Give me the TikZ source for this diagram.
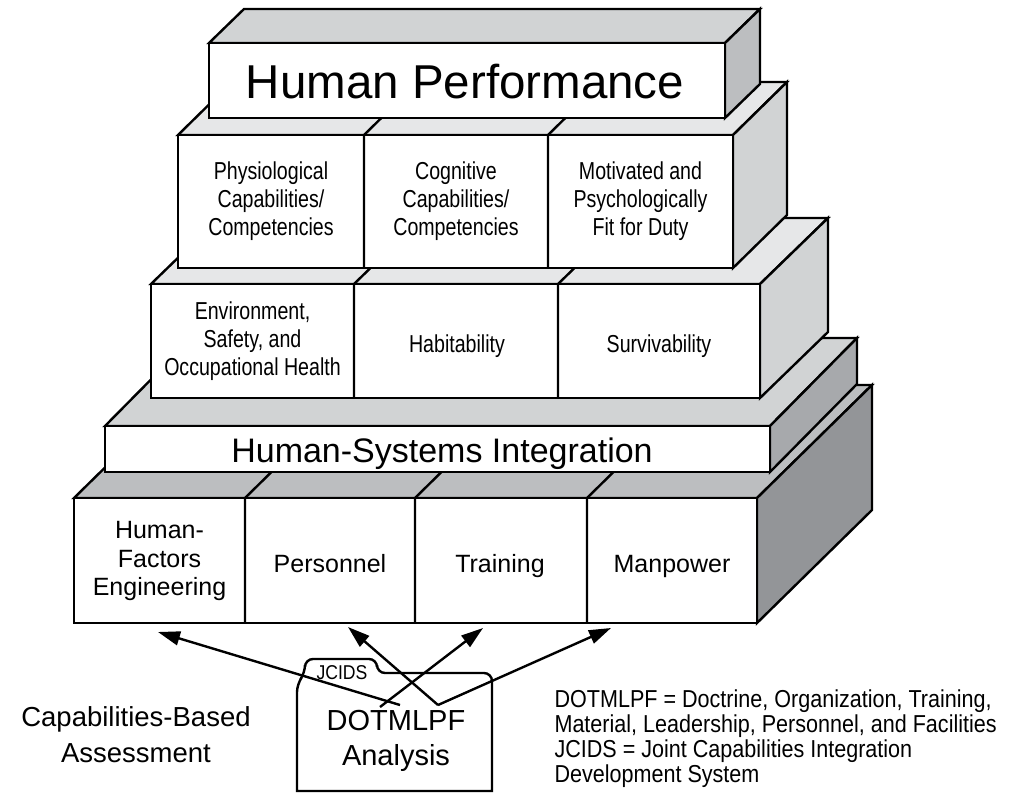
\documentclass[tikz,border=0pt]{standalone}
\usepackage{fontspec}
\setmainfont{Liberation Sans}
\newfontfamily\narrowfont[FakeStretch=0.8]{Liberation Sans}
\newfontfamily\notefont[FakeStretch=0.88]{Liberation Sans}
\usetikzlibrary{arrows.meta}
\definecolor{gA}{HTML}{E6E7E8}
\definecolor{gB}{HTML}{D1D3D4}
\definecolor{gC}{HTML}{BCBEC0}
\definecolor{gD}{HTML}{A7A9AC}
\definecolor{gE}{HTML}{939598}
\tikzset{
  edge/.style={draw=black, line width=2.4pt, line join=miter},
  celltext/.style={align=center, font=\narrowfont\fontsize{24.5}{28}\selectfont},
  basetext/.style={align=center, font=\fontsize{25}{28.5}\selectfont},
  arr/.style={line width=2.4pt, -{Triangle[length=22pt,width=14pt]}},
}
% x1 y1 x2 y2 dx dy topcolor rightcolor
\newcommand\slab[8]{%
  \filldraw[edge, fill=#7] (#1,#2) -- (#3,#2) -- ({#3+#5},{#2-#6}) -- ({#1+#5},{#2-#6}) -- cycle;
  \filldraw[edge, fill=#8] (#3,#2) -- ({#3+#5},{#2-#6}) -- ({#3+#5},{#4-#6}) -- (#3,#4) -- cycle;
  \filldraw[edge, fill=white] (#1,#2) rectangle (#3,#4);
}
% x ytop ybottom dx dy
\newcommand\celldiv[5]{%
  \draw[edge] (#1,#3) -- (#1,#2) -- ({#1+#4},{#2-#5});
}
\begin{document}
\begin{tikzpicture}[x=1pt,y=-1pt]
\useasboundingbox (0,0) rectangle (1014,792);
% bottom block
\slab{74}{498}{757}{623}{115}{113}{gC}{gE}
\celldiv{245}{498}{623}{115}{113}
\celldiv{415}{498}{623}{115}{113}
\celldiv{587}{498}{623}{115}{113}
% HSI bar
\slab{105}{426}{770}{472}{87}{88}{gB}{gD}
% level 3
\slab{151}{284}{760}{398}{68}{66}{gA}{gB}
\celldiv{354}{284}{398}{68}{66}
\celldiv{558}{284}{398}{68}{66}
% level 2
\slab{178}{135}{733}{268}{54}{53}{gA}{gB}
\celldiv{364}{135}{268}{54}{53}
\celldiv{548}{135}{268}{54}{53}
% top
\slab{209}{43}{725}{118}{35}{34}{gB}{gC}

\node[anchor=base, font=\fontsize{47.5}{50}\selectfont] (hp) at (465,98) {Human Performance};
\node[celltext] (phys) at (271,201.5) {Physiological\\Capabilities/\\Competencies};
\node[celltext] (cogn) at (456,201.5) {Cognitive\\Capabilities/\\Competencies};
\node[celltext] (moti) at (640.5,201.5) {Motivated and\\Psychologically\\Fit for Duty};
\node[celltext] (envi) at (252.5,341) {Environment,\\Safety, and\\Occupational Health};
\node[celltext, anchor=base] (habi) at (457,352) {Habitability};
\node[celltext, anchor=base] (surv) at (659,352) {Survivability};
\node[anchor=base, font=\fontsize{34}{36}\selectfont] (hsi) at (442,462) {Human-Systems Integration};
\node[basetext] (hfe) at (159.5,561) {Human-\\Factors\\Engineering};
\node[basetext, anchor=base] (pers) at (330,572) {Personnel};
\node[basetext, anchor=base] (trai) at (500,572) {Training};
\node[basetext, anchor=base] (manp) at (672,572) {Manpower};

% folder
\filldraw[edge, fill=white] (297,791) [rounded corners=8pt] -- (297,684) -- (305,673) -- (305,659) -- (377,659) -- (377,673) -- (492,673) [sharp corners] -- (492,791) -- cycle;
\node[anchor=base, font=\notefont\fontsize{20}{22}\selectfont] (jcids) at (342,679) {JCIDS};
\node[align=center, font=\fontsize{29}{35}\selectfont] (dot) at (396,741) {DOTMLPF\\Analysis};
\node[align=center, font=\fontsize{27.5}{36}\selectfont] (cba) at (136,735) {Capabilities-Based\\Assessment};
\node[anchor=north west, align=left, font=\notefont\fontsize{24.5}{25}\selectfont] (notes) at (551,686)
  {DOTMLPF = Doctrine, Organization, Training,\\Material, Leadership, Personnel, and Facilities\\JCIDS = Joint Capabilities Integration\\Development System};

% arrows
\coordinate (s1) at (400,705);
\coordinate (s2) at (438,705);
\coordinate (s3) at (380,707);
\coordinate (t1) at (158,632);
\coordinate (t2) at (348,627);
\coordinate (t3) at (483,628);
\coordinate (t4) at (611,628);
\draw[arr] (s1) -- (t1);
\draw[arr] (s2) -- (t2);
\draw[arr] (s3) -- (t3);
\draw[arr] (s2) -- (t4);
\end{tikzpicture}
\end{document}
